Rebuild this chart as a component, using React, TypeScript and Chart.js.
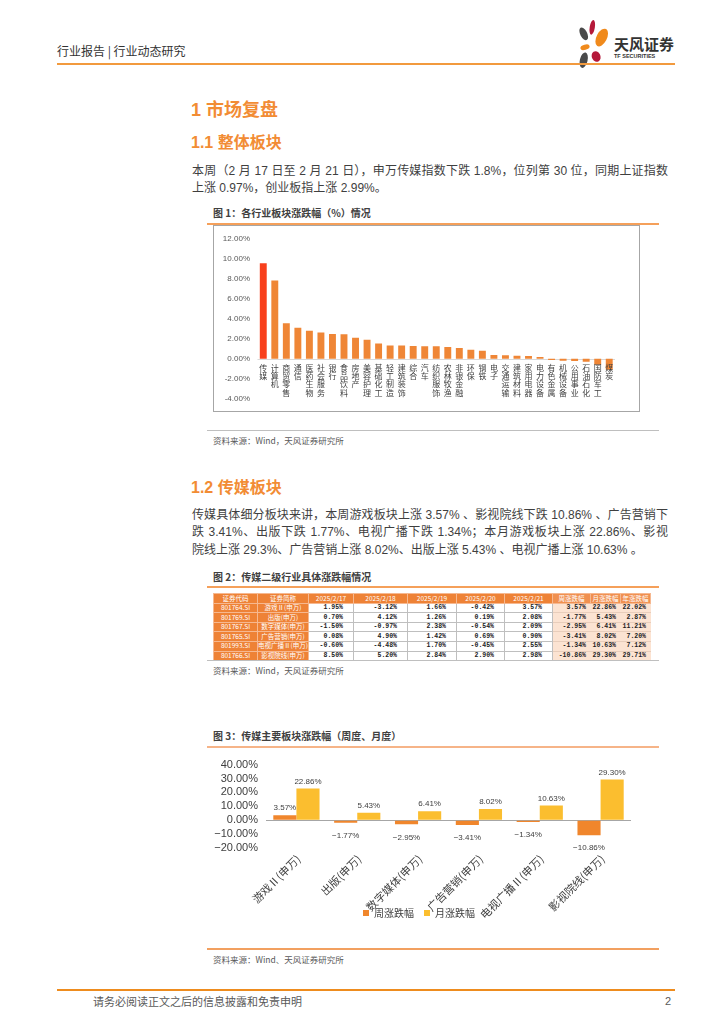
import React, { useEffect, useRef } from 'react';
import { Chart, registerables } from 'chart.js';

Chart.register(...registerables);

// ---------- Data ----------
const industryLabels = [
  '传媒', '计算机', '商贸零售', '通信', '医药生物', '社会服务', '银行', '食品饮料', '房地产', '美容护理',
  '基础化工', '轻工制造', '建筑装饰', '综合', '汽车', '纺织服饰', '农林牧渔', '非银金融', '环保', '钢铁',
  '电子', '交通运输', '建筑材料', '家用电器', '电力设备', '有色金属', '机械设备', '公用事业', '石油石化', '国防军工', '煤炭',
];
const industryChanges = [
  9.57, 7.83, 3.57, 3.1, 2.8, 2.63, 2.47, 2.45, 2.1, 1.9,
  1.53, 1.33, 1.33, 1.27, 1.25, 1.25, 1.17, 1.08, 0.9, 0.8,
  0.37, 0.35, 0.3, 0.28, 0.18, -0.12, -0.2, -0.22, -0.3, -0.6, -1.1,
];
const industryAxisMin = -4;
const industryAxisMax = 12;
const industryAxisStep = 2;

const mediaSectors = ['游戏Ⅱ(申万)', '出版(申万)', '数字媒体(申万)', '广告营销(申万)', '电视广播Ⅱ(申万)', '影视院线(申万)'];
const seriesNames = ['周涨跌幅', '月涨跌幅'];
const weeklyChange = [3.57, -1.77, -2.95, -3.41, -1.34, -10.86];
const monthlyChange = [22.86, 5.43, 6.41, 8.02, 10.63, 29.3];
const mediaAxisMin = -20;
const mediaAxisMax = 40;
const mediaAxisStep = 10;

const tableHeader = ['证券代码', '证券简称', '2025/2/17', '2025/2/18', '2025/2/19', '2025/2/20', '2025/2/21', '周涨跌幅', '月涨跌幅', '年涨跌幅'];
const tableCodes = ['801764.SI', '801769.SI', '801767.SI', '801765.SI', '801993.SI', '801766.SI'];
const tableNames = ['游戏Ⅱ(申万)', '出版(申万)', '数字媒体(申万)', '广告营销(申万)', '电视广播Ⅱ(申万)', '影视院线(申万)'];
const dailyChanges = [
  [1.95, -3.12, 1.66, -0.42, 3.57],
  [0.7, 4.12, 1.26, 0.19, 2.08],
  [-1.5, -0.97, 2.38, -0.54, 2.09],
  [0.08, 4.9, 1.42, 0.69, 0.9],
  [-0.6, -4.48, 1.7, -0.45, 2.55],
  [8.5, 5.2, 2.84, 2.9, 2.98],
];
const yearChange = [22.02, 2.87, 11.21, 7.2, 7.12, 29.71];

// ---------- Styles ----------
const CJK = '"Liberation Sans", "Noto Sans CJK SC", sans-serif';
const ORANGE = '#F28C34';
const TEXT = '#3F3F3F';

function T(props: { x: number; cy: number; size: number; children: any; color?: string; bold?: boolean; width?: number; justify?: boolean; family?: string }) {
  const lh = props.size * 1.4;
  return (
    <div
      style={{
        position: 'absolute',
        left: props.x,
        top: props.cy - lh / 2,
        fontSize: props.size,
        lineHeight: `${lh}px`,
        color: props.color || TEXT,
        fontWeight: props.bold ? 700 : 400,
        fontFamily: props.family || CJK,
        whiteSpace: 'nowrap',
        width: props.width,
        textAlign: props.justify ? 'justify' : 'left',
        textAlignLast: props.justify ? 'justify' : 'auto',
      } as any}
    >
      {props.children}
    </div>
  );
}

function HLine(props: { x1: number; x2: number; y: number; color: string; w?: number }) {
  const w = props.w || 1;
  return <div style={{ position: 'absolute', left: props.x1, top: props.y - w / 2, width: props.x2 - props.x1, height: w, background: props.color }} />;
}

// ---------- Chart 1 ----------
function IndustryChart() {
  const ref = useRef<HTMLCanvasElement>(null);
  useEffect(() => {
    if (!ref.current) return;
    const vLabels = {
      id: 'vLabels',
      beforeDatasetsDraw(chart: any) {
        const { ctx, chartArea, scales } = chart;
        const y0 = Math.round(scales.y.getPixelForValue(0)) + 0.5;
        ctx.save();
        ctx.strokeStyle = '#D9D9D9';
        ctx.lineWidth = 1;
        ctx.beginPath();
        ctx.moveTo(chartArea.left, y0);
        ctx.lineTo(chartArea.right, y0);
        ctx.stroke();
        ctx.restore();
      },
      afterDatasetsDraw(chart: any) {
        const { ctx, scales } = chart;
        const y0 = scales.y.getPixelForValue(0);
        ctx.save();
        ctx.font = '8px "Noto Sans CJK SC"';
        ctx.fillStyle = '#404040';
        ctx.textAlign = 'center';
        ctx.textBaseline = 'top';
        industryLabels.forEach((lab, i) => {
          const px = scales.x.getPixelForValue(i);
          Array.from(lab).forEach((ch, k) => ctx.fillText(ch, px, y0 + 5 + k * 8.3));
        });
        ctx.restore();
      },
    };
    const chart = new Chart(ref.current, {
      type: 'bar',
      data: {
        labels: industryLabels,
        datasets: [
          {
            data: industryChanges,
            backgroundColor: industryLabels.map((l) => (l === '传媒' ? '#F8401C' : '#EF8636')),
            categoryPercentage: 0.6,
            barPercentage: 1,
          },
        ],
      },
      options: {
        animation: false,
        responsive: true,
        maintainAspectRatio: false,
        layout: { padding: { top: 13, bottom: 12, right: 24, left: 0 } },
        plugins: { legend: { display: false }, tooltip: { enabled: false } },
        scales: {
          x: { display: false },
          y: {
            min: industryAxisMin,
            max: industryAxisMax,
            ticks: {
              stepSize: industryAxisStep,
              autoSkip: false,
              callback: (v: any) => Number(v).toFixed(2) + '%',
              font: { size: 8, family: '"Liberation Sans"' },
              color: '#595959',
              padding: 7.5,
            },
            grid: { display: false, drawTicks: false },
            border: { display: false },
            afterFit: (s: any) => {
              s.width = 43.5;
            },
          },
        },
      },
      plugins: [vLabels],
    } as any);
    return () => chart.destroy();
  }, []);
  return <canvas ref={ref} />;
}

// ---------- Chart 3 ----------
function MediaChart() {
  const ref = useRef<HTMLCanvasElement>(null);
  useEffect(() => {
    if (!ref.current) return;
    const fmt = (v: number) => (v < 0 ? '\u2212' : '') + Math.abs(v).toFixed(2) + '%';
    const valueLabels = {
      id: 'valueLabels',
      afterDatasetsDraw(chart: any) {
        const { ctx, scales } = chart;
        ctx.save();
        ctx.font = '8px "Liberation Sans"';
        ctx.fillStyle = '#404040';
        ctx.textAlign = 'center';
        ctx.textBaseline = 'middle';
        chart.data.datasets.forEach((ds: any, di: number) => {
          const meta = chart.getDatasetMeta(di);
          meta.data.forEach((bar: any, i: number) => {
            const v = ds.data[i];
            const y = v >= 0 ? bar.y - 7 : bar.y + 13;
            ctx.fillText(fmt(v), bar.x, y);
          });
        });
        ctx.restore();
        // rotated category labels (drawn here so they are not clipped to the axis box)
        ctx.save();
        ctx.font = '11px "Noto Sans CJK SC"';
        ctx.fillStyle = '#404040';
        ctx.textAlign = 'right';
        ctx.textBaseline = 'middle';
        const yb = scales.y.bottom;
        chart.data.labels.forEach((lab: string, i: number) => {
          const px = scales.x.getPixelForValue(i);
          ctx.save();
          ctx.translate(px + 2, yb + 9);
          ctx.rotate(-Math.PI / 4);
          ctx.fillText(lab, 0, 0);
          ctx.restore();
        });
        ctx.restore();
      },
    };
    const chart = new Chart(ref.current, {
      type: 'bar',
      data: {
        labels: mediaSectors,
        datasets: [
          { label: seriesNames[0], data: weeklyChange, backgroundColor: '#F0862C', categoryPercentage: 0.76, barPercentage: 1 },
          { label: seriesNames[1], data: monthlyChange, backgroundColor: '#FBBE2F', categoryPercentage: 0.76, barPercentage: 1 },
        ],
      },
      options: {
        animation: false,
        responsive: true,
        maintainAspectRatio: false,
        layout: { padding: { top: 9, right: 29, left: 0, bottom: 0 } },
        plugins: {
          tooltip: { enabled: false },
          legend: {
            position: 'bottom',
            labels: {
              boxWidth: 6,
              boxHeight: 6,
              padding: 10,
              color: '#404040',
              font: { size: 10, family: '"Noto Sans CJK SC"' },
            },
          },
        },
        scales: {
          x: {
            grid: { display: false, drawTicks: false },
            border: { display: false },
            ticks: { display: false },
            afterFit: (s: any) => {
              s.height = 50;
            },
          },
          y: {
            min: mediaAxisMin,
            max: mediaAxisMax,
            ticks: {
              stepSize: mediaAxisStep,
              autoSkip: false,
              callback: (v: any) => fmt(Number(v)),
              color: '#404040',
              font: { size: 11, family: '"Liberation Sans"' },
              padding: 8,
            },
            grid: {
              drawTicks: false,
              color: (c: any) => (c.tick && c.tick.value === 0 ? '#A6A6A6' : 'rgba(0,0,0,0)'),
            },
            border: { display: false },
            afterFit: (s: any) => {
              s.width = 59;
            },
          },
        },
      },
      plugins: [valueLabels],
    } as any);
    return () => chart.destroy();
  }, []);
  return <canvas ref={ref} />;
}

// ---------- Table ----------
const colWidths = [44, 51, 45, 54, 49, 48, 48, 38, 30, 30];
function MediaTable() {
  const pct = (v: number) => v.toFixed(2) + '%';
  const rowH = 8.6;
  const base: any = {
    height: rowH,
    lineHeight: `${rowH - 1}px`,
    padding: 0,
    fontSize: 6.5,
    whiteSpace: 'nowrap',
    overflow: 'hidden',
  };
  const orangeCell: any = { ...base, background: '#EE8236', color: '#FFFFFF', textAlign: 'center', border: '1px solid #F6B890' };
  const whiteCell: any = { ...base, background: '#FFFFFF', color: '#222', textAlign: 'right', paddingRight: 10, border: '1px solid #BFBFBF', fontFamily: '"Liberation Mono", monospace', fontWeight: 700 };
  const peachCell: any = { ...base, background: '#FCE3D2', color: '#222', textAlign: 'right', paddingRight: 4, border: '1px solid #FCE3D2', borderBottom: '1px solid #E8CDBB', fontFamily: '"Liberation Mono", monospace', fontWeight: 700 };
  return (
    <table
      style={{
        position: 'absolute',
        left: 213,
        top: 593,
        width: 437,
        borderCollapse: 'collapse',
        tableLayout: 'fixed',
        fontFamily: '"Noto Sans CJK SC", sans-serif',
      }}
    >
      <colgroup>
        {colWidths.map((w, i) => (
          <col key={i} style={{ width: w }} />
        ))}
      </colgroup>
      <tbody>
        <tr>
          {tableHeader.map((h, i) => (
            <td key={i} style={{ ...orangeCell, background: i >= 7 ? '#F09050' : '#EE8236' }}>
              {h}
            </td>
          ))}
        </tr>
        {tableCodes.map((code, r) => (
          <tr key={code}>
            <td style={orangeCell}>{code}</td>
            <td style={orangeCell}>{tableNames[r]}</td>
            {dailyChanges[r].map((v, c) => (
              <td key={c} style={whiteCell}>
                {pct(v)}
              </td>
            ))}
            <td style={peachCell}>{pct(weeklyChange[r])}</td>
            <td style={peachCell}>{pct(monthlyChange[r])}</td>
            <td style={peachCell}>{pct(yearChange[r])}</td>
          </tr>
        ))}
      </tbody>
    </table>
  );
}

// ---------- Logo ----------
function Logo(props: { lineY: number }) {
  const top = props.lineY - 45;
  return (
    <>
      <svg style={{ position: 'absolute', left: 576, top }} width={36} height={50} viewBox="0 0 42 54" preserveAspectRatio="none">
        <ellipse cx={9} cy={16} rx={4} ry={7.5} fill="#4A4A4A" transform="rotate(-30 9 16)" />
        <ellipse cx={19} cy={9} rx={3} ry={8} fill="#B5193A" transform="rotate(10 19 9)" />
        <ellipse cx={30} cy={20} rx={6} ry={10.5} fill="#F08A1C" transform="rotate(30 30 20)" />
        <ellipse cx={10.5} cy={30.5} rx={5.5} ry={2.8} fill="#F08A1C" transform="rotate(-15 10.5 30.5)" />
        <ellipse cx={23.5} cy={40.5} rx={5} ry={6} fill="#B5193A" transform="rotate(-30 23.5 40.5)" />
        <ellipse cx={9} cy={44.5} rx={4.5} ry={8.5} fill="#4A4A4A" transform="rotate(15 9 44.5)" />
      </svg>
      <T x={614} cy={props.lineY - 21} size={15} bold color="#333333" family='"Noto Sans CJK SC"'>
        天风证券
      </T>
      <T x={614} cy={props.lineY - 7} size={5.5} bold color="#333333">
        TF SECURITIES
      </T>
    </>
  );
}

export default function App() {
  const headerLine = 64;
  return (
    <div style={{ position: 'absolute', left: 0, top: 0, width: 724, height: 1024, background: '#FFFFFF', overflow: 'hidden' }}>
      {/* Header */}
      <T x={57} cy={headerLine - 13} size={12} color="#333333" family='"Noto Sans CJK SC"'>
        行业报告 | 行业动态研究
      </T>
      <Logo lineY={headerLine} />
      <HLine x1={57} x2={675} y={headerLine} color="#F29A3E" w={2} />

      {/* Section 1 */}
      <T x={191} cy={111} size={18} bold color={ORANGE} family='"Liberation Sans", "Noto Sans CJK SC"'>
        1 市场复盘
      </T>
      <T x={191} cy={143} size={16} bold color={ORANGE} family='"Liberation Sans", "Noto Sans CJK SC"'>
        1.1 整体板块
      </T>
      <T x={192} cy={171} size={12} width={476} justify>
        本周（2 月 17 日至 2 月 21 日），申万传媒指数下跌 1.8%，位列第 30 位，同期上证指数
      </T>
      <T x={192} cy={188.5} size={12}>
        上涨 0.97%，创业板指上涨 2.99%。
      </T>

      {/* Figure 1 */}
      <T x={213} cy={213} size={10} bold color="#404040" family='"Noto Sans CJK SC"'>
        图 1：各行业板块涨跌幅（%）情况
      </T>
      <HLine x1={207} x2={659} y={224} color="#F5A05A" w={1.5} />
      <div style={{ position: 'absolute', left: 213, top: 225, width: 427, height: 187, boxSizing: 'border-box', border: '1.5px solid #A6A6A6' }} />
      <div style={{ position: 'absolute', left: 214, top: 226, width: 425, height: 185 }}>
        <IndustryChart />
      </div>
      <HLine x1={207} x2={659} y={430} color="#BFBFBF" w={1} />
      <T x={213} cy={441} size={8.5} color="#595959" family='"Noto Sans CJK SC"'>
        资料来源：Wind，天风证券研究所
      </T>

      {/* Section 1.2 */}
      <T x={191} cy={488} size={16} bold color={ORANGE} family='"Liberation Sans", "Noto Sans CJK SC"'>
        1.2 传媒板块
      </T>
      <T x={192} cy={515} size={12} width={476} justify>
        传媒具体细分板块来讲，本周游戏板块上涨 3.57% 、影视院线下跌 10.86% 、广告营销下
      </T>
      <T x={192} cy={532.5} size={12} width={476} justify>
        跌 3.41%、出版下跌 1.77%、电视广播下跌 1.34%；本月游戏板块上涨 22.86%、影视
      </T>
      <T x={192} cy={550} size={12}>
        院线上涨 29.3%、广告营销上涨 8.02%、出版上涨 5.43% 、电视广播上涨 10.63% 。
      </T>

      {/* Figure 2 */}
      <T x={213} cy={577} size={10} bold color="#404040" family='"Noto Sans CJK SC"'>
        图 2：传媒二级行业具体涨跌幅情况
      </T>
      <HLine x1={207} x2={659} y={587} color="#F5A05A" w={1.5} />
      <MediaTable />
      <HLine x1={207} x2={659} y={660} color="#BFBFBF" w={1} />
      <T x={213} cy={671} size={8.5} color="#595959" family='"Noto Sans CJK SC"'>
        资料来源：Wind，天风证券研究所
      </T>

      {/* Figure 3 */}
      <T x={213} cy={736} size={10} bold color="#404040" family='"Noto Sans CJK SC"'>
        图 3：传媒主要板块涨跌幅（周度、月度）
      </T>
      <HLine x1={207} x2={659} y={747} color="#F6B488" w={1.5} />
      <div style={{ position: 'absolute', left: 207, top: 750, width: 453, height: 178 }}>
        <MediaChart />
      </div>
      <HLine x1={207} x2={659} y={949} color="#F2A060" w={1.5} />
      <T x={213} cy={960} size={8.5} color="#595959" family='"Noto Sans CJK SC"'>
        资料来源：Wind、天风证券研究所
      </T>

      {/* Footer */}
      <HLine x1={57} x2={675} y={990} color="#EE8C1E" w={1.5} />
      <T x={93} cy={1002} size={11} color="#595959" family='"Noto Sans CJK SC"'>
        请务必阅读正文之后的信息披露和免责申明
      </T>
      <T x={665} cy={1002} size={11} color="#595959">
        2
      </T>
    </div>
  );
}
